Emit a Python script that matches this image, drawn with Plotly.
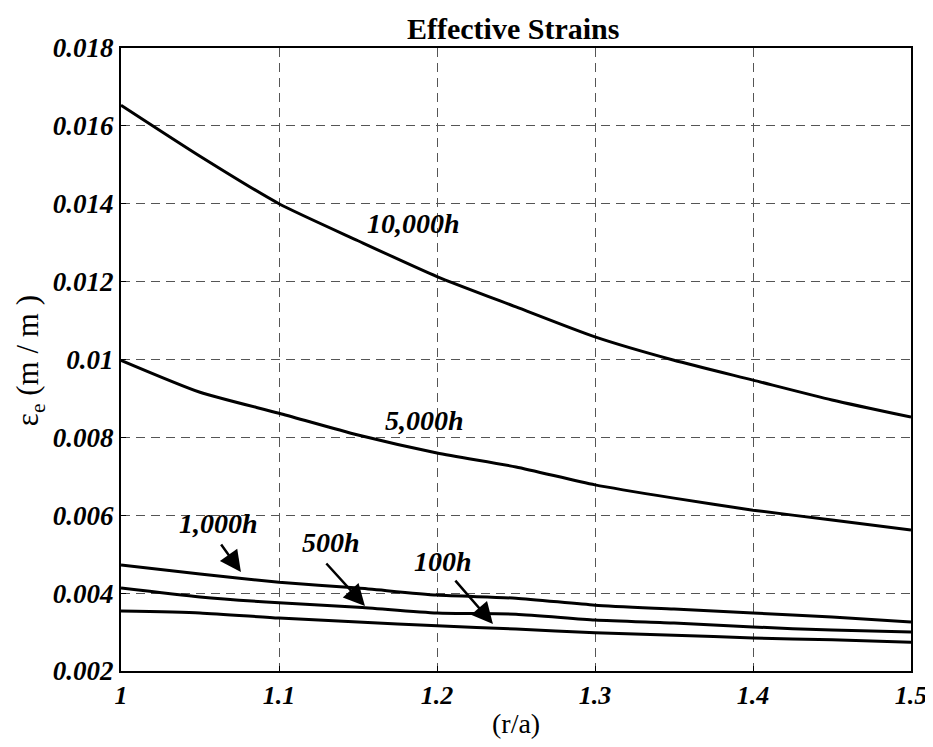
import plotly.graph_objects as go

r_a = [1.0, 1.05, 1.1, 1.15, 1.2, 1.25, 1.3, 1.35, 1.4, 1.45, 1.5]
strain_10000h = [0.01653, 0.01522, 0.01400, 0.01305, 0.01213, 0.01135, 0.01058, 0.00998, 0.00947, 0.00896, 0.00852]
strain_5000h = [0.00998, 0.00916, 0.00862, 0.00806, 0.00760, 0.00724, 0.00678, 0.00644, 0.00613, 0.00588, 0.00562]
strain_1000h = [0.00472, 0.00449, 0.00428, 0.00413, 0.00395, 0.00387, 0.00369, 0.00359, 0.00349, 0.00339, 0.00326]
strain_500h = [0.00413, 0.00390, 0.00375, 0.00364, 0.00349, 0.00346, 0.00331, 0.00323, 0.00313, 0.00305, 0.00300]
strain_100h = [0.00354, 0.00349, 0.00336, 0.00326, 0.00316, 0.00308, 0.00298, 0.00292, 0.00285, 0.00280, 0.00274]

x_ticks = [1.0, 1.1, 1.2, 1.3, 1.4, 1.5]
x_tick_labels = ["1", "1.1", "1.2", "1.3", "1.4", "1.5"]
y_ticks = [0.002, 0.004, 0.006, 0.008, 0.010, 0.012, 0.014, 0.016, 0.018]
y_tick_labels = ["0.002", "0.004", "0.006", "0.008", "0.01", "0.012", "0.014", "0.016", "0.018"]

FONT = "Liberation Serif"

fig = go.Figure()
for ys in [strain_10000h, strain_5000h, strain_1000h, strain_500h, strain_100h]:
    fig.add_trace(go.Scatter(x=r_a, y=ys, mode="lines",
                             line=dict(color="black", width=3, shape="spline", smoothing=0.6),
                             showlegend=False))

label_font = dict(family=FONT, size=28, color="black")

def bi(t):
    return "<b><i>" + t + "</i></b>"

annotations = [
    dict(x=1.1854, y=0.01350, text=bi("10,000h"), showarrow=False, font=label_font),
    dict(x=1.1924, y=0.00844, text=bi("5,000h"), showarrow=False, font=label_font),
    dict(x=1.0617, y=0.00580, text=bi("1,000h"), showarrow=False, font=label_font),
    dict(x=1.1326, y=0.00529, text=bi("500h"), showarrow=False, font=label_font),
    dict(x=1.2035, y=0.00480, text=bi("100h"), showarrow=False, font=label_font),
]
arrows = [
    ((1.0627, 0.00529), (1.0759, 0.00454)),
    ((1.1291, 0.00480), (1.1544, 0.00367)),
    ((1.2108, 0.00436), (1.2354, 0.00321)),
]
for (tx, ty), (hx, hy) in arrows:
    annotations.append(dict(x=hx, y=hy, ax=tx, ay=ty, xref="x", yref="y",
                            axref="x", ayref="y", text="", showarrow=True,
                            arrowhead=2, arrowsize=1.7, arrowwidth=2.5,
                            arrowcolor="black"))

annotations.append(dict(xref="paper", yref="paper", x=-0.115, y=0.4976,
                        text="ε<sub>e</sub> (m / m )", textangle=-90, showarrow=False,
                        font=dict(family=FONT, size=31, color="black"),
                        xanchor="center", yanchor="middle"))
annotations.append(dict(xref="paper", yref="paper", x=0.5, y=-0.085,
                        text="(r/a)", showarrow=False,
                        font=dict(family=FONT, size=28, color="black"),
                        xanchor="center", yanchor="middle"))
annotations.append(dict(xref="paper", yref="paper", x=0.496, y=1.032,
                        text="<b>Effective Strains</b>", showarrow=False,
                        font=dict(family=FONT, size=30, color="black"),
                        xanchor="center", yanchor="middle"))

axis_common = dict(showline=True, linecolor="black", linewidth=2, mirror=True,
                   showgrid=True, gridcolor="#555555", gridwidth=1, griddash="9px,6px",
                   ticks="inside", ticklen=5, tickcolor="black", zeroline=False,
                   automargin=False)

fig.update_layout(
    width=933, height=747,
    margin=dict(l=113, r=30, t=40, b=84),
    plot_bgcolor="white", paper_bgcolor="white",
    xaxis=dict(range=[1.0, 1.5], tickvals=x_ticks,
               ticktext=[bi(t) for t in x_tick_labels],
               tickfont=dict(family=FONT, size=26, color="black"), **axis_common),
    yaxis=dict(range=[0.002, 0.018], tickvals=y_ticks,
               ticktext=[bi(t) for t in y_tick_labels],
               tickfont=dict(family=FONT, size=27, color="black"), **axis_common),
    annotations=annotations,
)

fig.write_html("out.html")
